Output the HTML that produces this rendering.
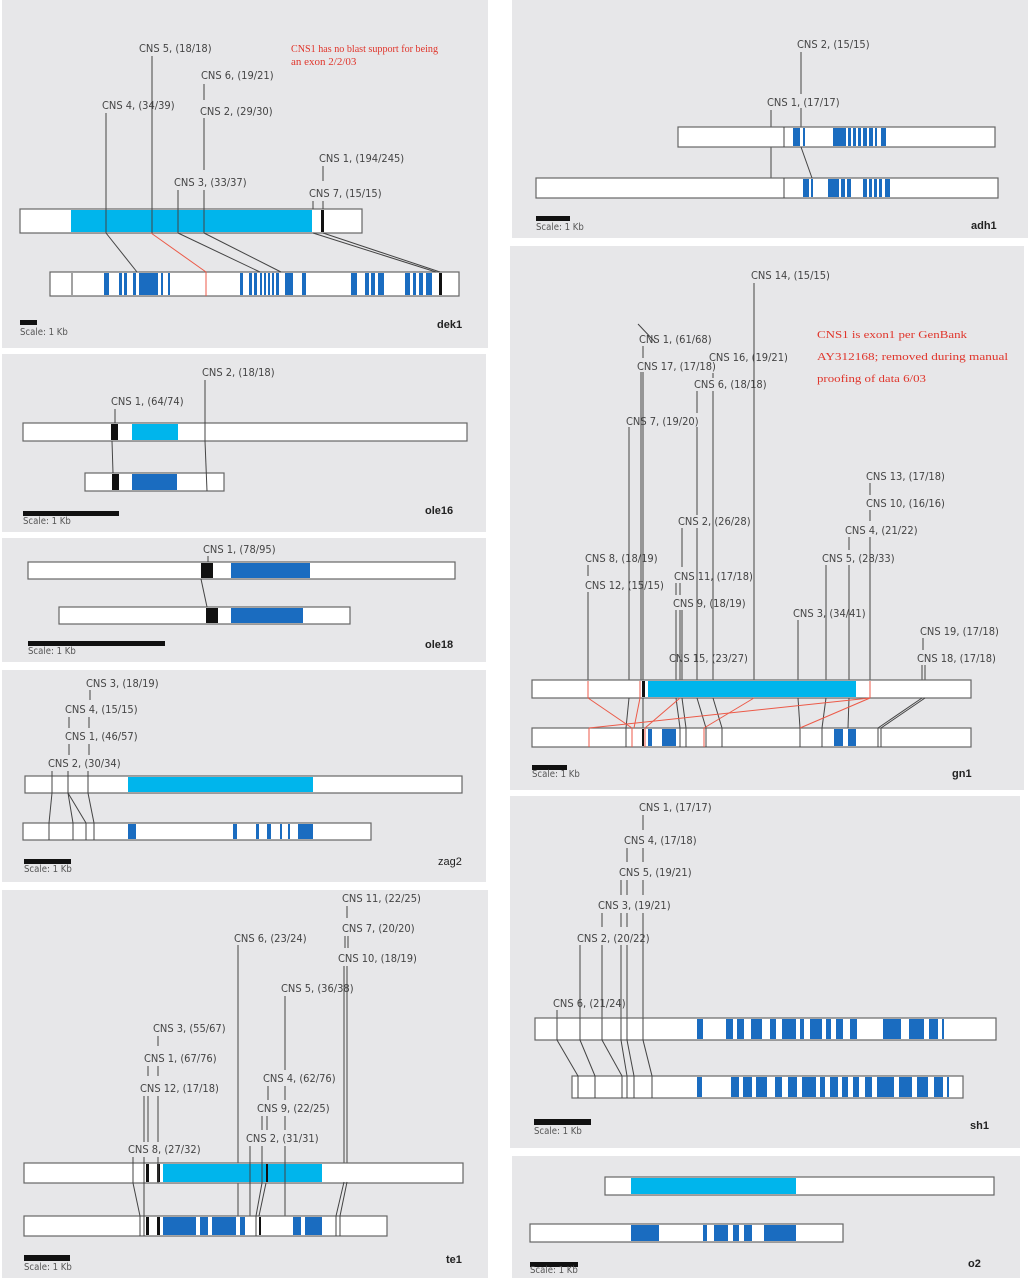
<!DOCTYPE html>
<html><head><meta charset="utf-8"><style>
html,body{margin:0;padding:0;background:#fff;}
svg{display:block;}
text{font-family:"DejaVu Sans Condensed","Liberation Sans",sans-serif;font-size:11px;fill:#444;}
.b{font-family:"Liberation Sans",sans-serif;font-weight:bold;font-size:11px;fill:#222;}
.s{font-size:9.5px;fill:#555;}
.r{font-family:"Liberation Serif",serif;fill:#e0352b;}
.bar{fill:#fff;stroke:#666;stroke-width:1.2;}
.lb{fill:#00b5ec;}
.db{fill:#1a6cc0;}
.k{fill:#111;}
line{stroke:#444;stroke-width:1;}
.rl{stroke:#ec5a48;stroke-width:1;}
</style></head><body>
<svg width="1030" height="1280" xmlns="http://www.w3.org/2000/svg">
<rect width="1030" height="1280" fill="#fff"/>
<g fill="#e7e7e9">
<rect x="2" y="0" width="486" height="348"/>
<rect x="2" y="354" width="484" height="178"/>
<rect x="2" y="538" width="484" height="124"/>
<rect x="2" y="670" width="484" height="212"/>
<rect x="2" y="890" width="486" height="388"/>
<rect x="512" y="0" width="516" height="238"/>
<rect x="510" y="246" width="514" height="544"/>
<rect x="510" y="796" width="510" height="352"/>
<rect x="512" y="1156" width="508" height="122"/>
</g>

<!-- dek1 -->
<text x="139" y="52">CNS 5, (18/18)</text>
<text x="201" y="79">CNS 6, (19/21)</text>
<text x="102" y="109">CNS 4, (34/39)</text>
<text x="200" y="115">CNS 2, (29/30)</text>
<text x="174" y="186">CNS 3, (33/37)</text>
<text x="319" y="162">CNS 1, (194/245)</text>
<text x="309" y="197">CNS 7, (15/15)</text>
<text class="r" x="291" y="52" font-size="10.5" textLength="147" lengthAdjust="spacingAndGlyphs">CNS1 has no blast support for being</text>
<text class="r" x="291" y="65" font-size="10.5">an exon 2/2/03</text>
<rect class="bar" x="20" y="209" width="342" height="24"/>
<rect class="lb" x="71" y="210" width="241" height="22"/>
<rect class="k" x="321" y="210" width="3" height="22"/>
<rect class="bar" x="50" y="272" width="409" height="24"/>
<g class="db">
<rect x="104" y="273" width="5" height="22"/><rect x="119" y="273" width="3" height="22"/><rect x="124" y="273" width="3" height="22"/><rect x="133" y="273" width="3" height="22"/><rect x="139" y="273" width="19" height="22"/><rect x="161" y="273" width="2" height="22"/><rect x="168" y="273" width="2" height="22"/>
<rect x="240" y="273" width="3" height="22"/><rect x="249" y="273" width="3" height="22"/><rect x="254" y="273" width="3" height="22"/><rect x="260" y="273" width="2" height="22"/><rect x="264" y="273" width="2" height="22"/><rect x="268" y="273" width="2" height="22"/><rect x="272" y="273" width="2" height="22"/><rect x="276" y="273" width="3" height="22"/><rect x="285" y="273" width="8" height="22"/><rect x="302" y="273" width="4" height="22"/>
<rect x="351" y="273" width="6" height="22"/><rect x="365" y="273" width="4" height="22"/><rect x="371" y="273" width="4" height="22"/><rect x="378" y="273" width="6" height="22"/><rect x="405" y="273" width="5" height="22"/><rect x="413" y="273" width="3" height="22"/><rect x="419" y="273" width="4" height="22"/><rect x="426" y="273" width="6" height="22"/>
</g>
<rect class="k" x="439" y="273" width="3" height="22"/>
<line x1="72" y1="273" x2="72" y2="295"/>
<line x1="106" y1="113" x2="106" y2="233"/><line x1="106" y1="233" x2="137" y2="272"/>
<line x1="152" y1="56" x2="152" y2="233"/><line class="rl" x1="151" y1="233" x2="206" y2="272"/><line class="rl" x1="206" y1="272" x2="206" y2="296"/>
<line x1="204" y1="84" x2="204" y2="100"/><line x1="204" y1="118" x2="204" y2="170" stroke-width="2"/><line x1="204" y1="190" x2="204" y2="233" stroke-width="2"/>
<line x1="178" y1="190" x2="178" y2="233"/><line x1="178" y1="233" x2="260" y2="272"/><line x1="204" y1="233" x2="281" y2="272" stroke-width="2"/>
<line x1="323" y1="166" x2="323" y2="181"/><line x1="313" y1="201" x2="313" y2="209"/><line x1="323" y1="201" x2="323" y2="209"/>
<line x1="313" y1="233" x2="436" y2="272" stroke="#888" stroke-width="2"/><line x1="323" y1="233" x2="440" y2="272" stroke="#888" stroke-width="2"/>
<rect class="k" x="20" y="320" width="17" height="5"/><text class="s" x="20" y="335">Scale:  1 Kb</text><text class="b" x="437" y="328">dek1</text>

<!-- ole16 -->
<text x="202" y="376">CNS 2, (18/18)</text>
<text x="111" y="405">CNS 1, (64/74)</text>
<rect class="bar" x="23" y="423" width="444" height="18"/>
<rect class="k" x="111" y="424" width="7" height="16"/><rect class="lb" x="132" y="424" width="46" height="16"/>
<rect class="bar" x="85" y="473" width="139" height="18"/>
<rect class="k" x="112" y="474" width="7" height="16"/><rect class="db" x="132" y="474" width="45" height="16"/>
<line x1="115" y1="409" x2="115" y2="423"/><line x1="112" y1="441" x2="113" y2="473"/>
<line x1="205" y1="380" x2="205" y2="441"/><line x1="205" y1="441" x2="207" y2="491"/>
<rect class="k" x="23" y="511" width="96" height="5"/><text class="s" x="23" y="524">Scale:  1 Kb</text><text class="b" x="425" y="514">ole16</text>

<!-- ole18 -->
<text x="203" y="553">CNS 1, (78/95)</text>
<rect class="bar" x="28" y="562" width="427" height="17"/>
<rect class="k" x="201" y="563" width="12" height="15"/><rect class="db" x="231" y="563" width="79" height="15"/>
<rect class="bar" x="59" y="607" width="291" height="17"/>
<rect class="k" x="206" y="608" width="12" height="15"/><rect class="db" x="231" y="608" width="72" height="15"/>
<line x1="208" y1="556" x2="208" y2="562"/><line x1="201" y1="579" x2="207" y2="607"/>
<rect class="k" x="28" y="641" width="137" height="5"/><text class="s" x="28" y="654">Scale:   1 Kb</text><text class="b" x="425" y="648">ole18</text>

<!-- zag2 -->
<text x="86" y="687">CNS 3, (18/19)</text>
<text x="65" y="713">CNS 4, (15/15)</text>
<text x="65" y="740">CNS 1, (46/57)</text>
<text x="48" y="767">CNS 2, (30/34)</text>
<rect class="bar" x="25" y="776" width="437" height="17"/>
<rect class="lb" x="128" y="777" width="185" height="15"/>
<line x1="90" y1="690" x2="90" y2="700"/><line x1="69" y1="717" x2="69" y2="728"/><line x1="89" y1="717" x2="89" y2="728"/>
<line x1="69" y1="744" x2="69" y2="755"/><line x1="89" y1="744" x2="89" y2="755"/>
<line x1="52" y1="771" x2="52" y2="793"/><line x1="68" y1="771" x2="68" y2="793" stroke-width="1.5"/><line x1="88" y1="771" x2="88" y2="793"/>
<rect class="bar" x="23" y="823" width="348" height="17"/>
<g class="db"><rect x="128" y="824" width="8" height="15"/><rect x="233" y="824" width="4" height="15"/><rect x="256" y="824" width="3" height="15"/><rect x="267" y="824" width="4" height="15"/><rect x="280" y="824" width="2" height="15"/><rect x="288" y="824" width="2" height="15"/><rect x="298" y="824" width="15" height="15"/></g>
<line x1="52" y1="793" x2="49" y2="823"/><line x1="49" y1="823" x2="49" y2="840"/>
<line x1="68" y1="793" x2="73" y2="823"/><line x1="73" y1="823" x2="73" y2="840" stroke-width="1.5"/>
<line x1="68" y1="793" x2="86" y2="823"/><line x1="86" y1="823" x2="86" y2="840"/>
<line x1="88" y1="793" x2="94" y2="823"/><line x1="94" y1="823" x2="94" y2="840"/>
<rect class="k" x="24" y="859" width="47" height="5"/><text class="s" x="24" y="872">Scale:  1 Kb</text><text class="b" x="438" y="865" style="font-weight:normal">zag2</text>

<!-- te1 -->
<text x="342" y="902">CNS 11, (22/25)</text>
<text x="342" y="932">CNS 7, (20/20)</text>
<text x="234" y="942">CNS 6, (23/24)</text>
<text x="338" y="962">CNS 10, (18/19)</text>
<text x="281" y="992">CNS 5, (36/38)</text>
<text x="153" y="1032">CNS 3, (55/67)</text>
<text x="144" y="1062">CNS 1, (67/76)</text>
<text x="263" y="1082">CNS 4, (62/76)</text>
<text x="140" y="1092">CNS 12, (17/18)</text>
<text x="257" y="1112">CNS 9, (22/25)</text>
<text x="246" y="1142">CNS 2, (31/31)</text>
<text x="128" y="1153">CNS 8, (27/32)</text>
<line x1="347" y1="906" x2="347" y2="918"/>
<line x1="345" y1="936" x2="345" y2="948"/><line x1="348" y1="936" x2="348" y2="948"/>
<line x1="344" y1="966" x2="344" y2="1182" stroke-width="1.3"/><line x1="347" y1="966" x2="347" y2="1182" stroke-width="1.3"/>
<line x1="238" y1="945" x2="238" y2="1236"/>
<line x1="285" y1="996" x2="285" y2="1070"/>
<line x1="158" y1="1036" x2="158" y2="1046"/>
<line x1="148" y1="1066" x2="148" y2="1076"/><line x1="158" y1="1066" x2="158" y2="1076"/>
<line x1="268" y1="1086" x2="268" y2="1100"/><line x1="285" y1="1086" x2="285" y2="1100"/>
<line x1="144" y1="1096" x2="144" y2="1142"/><line x1="148" y1="1096" x2="148" y2="1142"/><line x1="158" y1="1096" x2="158" y2="1142"/>
<line x1="262" y1="1116" x2="262" y2="1130"/><line x1="267" y1="1116" x2="267" y2="1130"/><line x1="285" y1="1116" x2="285" y2="1130"/>
<rect class="bar" x="24" y="1163" width="439" height="20"/>
<rect class="lb" x="163" y="1164" width="159" height="18"/>
<rect class="k" x="146" y="1164" width="3" height="18"/><rect class="k" x="157" y="1164" width="3" height="18"/><rect class="k" x="266" y="1164" width="2" height="18"/>
<line x1="133" y1="1157" x2="133" y2="1183"/><line x1="144" y1="1157" x2="144" y2="1183"/><line x1="158" y1="1157" x2="158" y2="1183"/>
<line x1="250" y1="1146" x2="250" y2="1216"/><line x1="262" y1="1146" x2="262" y2="1183"/><line x1="285" y1="1146" x2="285" y2="1236"/>
<rect class="bar" x="24" y="1216" width="363" height="20"/>
<g class="db"><rect x="163" y="1217" width="33" height="18"/><rect x="200" y="1217" width="8" height="18"/><rect x="212" y="1217" width="24" height="18"/><rect x="240" y="1217" width="5" height="18"/><rect x="293" y="1217" width="8" height="18"/><rect x="305" y="1217" width="17" height="18"/></g>
<rect class="k" x="146" y="1217" width="3" height="18"/><rect class="k" x="157" y="1217" width="3" height="18"/><rect class="k" x="259" y="1217" width="2" height="18"/>
<line x1="133" y1="1183" x2="140" y2="1216"/><line x1="140" y1="1216" x2="140" y2="1236"/>
<line x1="144" y1="1183" x2="144" y2="1236"/>
<line x1="262" y1="1183" x2="256" y2="1216"/><line x1="256" y1="1216" x2="256" y2="1236"/>
<line x1="266" y1="1183" x2="259" y2="1216"/>
<line x1="344" y1="1182" x2="336" y2="1216"/><line x1="347" y1="1182" x2="340" y2="1216"/>
<line x1="336" y1="1216" x2="336" y2="1236"/><line x1="340" y1="1216" x2="340" y2="1236"/>
<rect class="k" x="24" y="1255" width="46" height="6"/><text class="s" x="24" y="1270">Scale:  1 Kb</text><text class="b" x="446" y="1263">te1</text>

<!-- adh1 -->
<text x="797" y="48">CNS 2, (15/15)</text>
<text x="767" y="106">CNS 1, (17/17)</text>
<line x1="801" y1="52" x2="801" y2="94"/><line x1="801" y1="108" x2="801" y2="147"/>
<line x1="771" y1="110" x2="771" y2="197"/>
<rect class="bar" x="678" y="127" width="317" height="20"/>
<g class="db"><rect x="793" y="128" width="7" height="18"/><rect x="803" y="128" width="2" height="18"/><rect x="833" y="128" width="13" height="18"/><rect x="848" y="128" width="3" height="18"/><rect x="853" y="128" width="3" height="18"/><rect x="858" y="128" width="3" height="18"/><rect x="863" y="128" width="4" height="18"/><rect x="869" y="128" width="4" height="18"/><rect x="875" y="128" width="2" height="18"/><rect x="881" y="128" width="5" height="18"/></g>
<line x1="784" y1="127" x2="784" y2="147"/>
<rect class="bar" x="536" y="178" width="462" height="20"/>
<g class="db"><rect x="803" y="179" width="6" height="18"/><rect x="811" y="179" width="2" height="18"/><rect x="828" y="179" width="11" height="18"/><rect x="841" y="179" width="4" height="18"/><rect x="847" y="179" width="4" height="18"/><rect x="863" y="179" width="4" height="18"/><rect x="869" y="179" width="3" height="18"/><rect x="874" y="179" width="3" height="18"/><rect x="879" y="179" width="3" height="18"/><rect x="885" y="179" width="5" height="18"/></g>
<line x1="784" y1="178" x2="784" y2="198"/>
<line x1="801" y1="147" x2="812" y2="178"/>
<rect class="k" x="536" y="216" width="34" height="5"/><text class="s" x="536" y="230">Scale:  1 Kb</text><text class="b" x="971" y="229">adh1</text>

<!-- gn1 -->
<text x="751" y="279">CNS 14, (15/15)</text>
<text x="639" y="343">CNS 1, (61/68)</text>
<line x1="638" y1="324" x2="655" y2="342" stroke="#1e9fd8" stroke-width="4"/>
<text x="709" y="361">CNS 16, (19/21)</text>
<text x="637" y="370">CNS 17, (17/18)</text>
<text x="694" y="388">CNS 6, (18/18)</text>
<text x="626" y="425">CNS 7, (19/20)</text>
<text x="866" y="480">CNS 13, (17/18)</text>
<text x="866" y="507">CNS 10, (16/16)</text>
<text x="678" y="525">CNS 2, (26/28)</text>
<text x="845" y="534">CNS 4, (21/22)</text>
<text x="585" y="562">CNS 8, (18/19)</text>
<text x="822" y="562">CNS 5, (28/33)</text>
<text x="674" y="580">CNS 11, (17/18)</text>
<text x="585" y="589">CNS 12, (15/15)</text>
<text x="673" y="607">CNS 9, (18/19)</text>
<text x="793" y="617">CNS 3, (34/41)</text>
<text x="920" y="635">CNS 19, (17/18)</text>
<text x="669" y="662">CNS 15, (23/27)</text>
<text x="917" y="662">CNS 18, (17/18)</text>
<text class="r" x="817" y="338" font-size="17" textLength="150" lengthAdjust="spacingAndGlyphs">CNS1 is exon1 per GenBank</text>
<text class="r" x="817" y="360" font-size="17" textLength="191" lengthAdjust="spacingAndGlyphs">AY312168;  removed during manual</text>
<text class="r" x="817" y="382" font-size="17" textLength="109" lengthAdjust="spacingAndGlyphs">proofing of data 6/03</text>
<line x1="754" y1="283" x2="754" y2="680"/>
<line x1="643" y1="346" x2="643" y2="358"/>
<line x1="713" y1="373" x2="713" y2="378"/>
<line x1="641" y1="372" x2="641" y2="680"/><line x1="643" y1="372" x2="643" y2="680"/>
<line x1="697" y1="391" x2="697" y2="413"/><line x1="713" y1="391" x2="713" y2="680"/>
<line x1="629" y1="427" x2="629" y2="680"/><line x1="697" y1="427" x2="697" y2="515"/>
<line x1="870" y1="483" x2="870" y2="495"/><line x1="870" y1="510" x2="870" y2="521"/>
<line x1="682" y1="528" x2="682" y2="567"/><line x1="697" y1="528" x2="697" y2="680"/>
<line x1="849" y1="537" x2="849" y2="550"/><line x1="870" y1="537" x2="870" y2="680"/>
<line x1="588" y1="565" x2="588" y2="576"/>
<line x1="826" y1="565" x2="826" y2="680"/><line x1="849" y1="565" x2="849" y2="680"/>
<line x1="676" y1="583" x2="676" y2="595"/><line x1="680" y1="583" x2="680" y2="595"/>
<line x1="588" y1="592" x2="588" y2="680"/>
<line x1="676" y1="610" x2="676" y2="680"/><line x1="680" y1="610" x2="680" y2="680"/><line x1="682" y1="610" x2="682" y2="680"/>
<line x1="798" y1="620" x2="798" y2="680"/>
<line x1="923" y1="638" x2="923" y2="650"/>
<line x1="922" y1="665" x2="922" y2="680"/><line x1="925" y1="665" x2="925" y2="680"/>
<rect class="bar" x="532" y="680" width="439" height="18"/>
<rect class="lb" x="648" y="681" width="208" height="16"/>
<rect class="k" x="642" y="681" width="3" height="16"/>
<line class="rl" x1="588" y1="681" x2="588" y2="698"/><line class="rl" x1="640" y1="681" x2="640" y2="698"/><line class="rl" x1="870" y1="681" x2="870" y2="698"/>
<rect class="bar" x="532" y="728" width="439" height="19"/>
<g class="db"><rect x="648" y="729" width="4" height="17"/><rect x="662" y="729" width="14" height="17"/><rect x="834" y="729" width="9" height="17"/><rect x="848" y="729" width="8" height="17"/></g>
<rect class="k" x="642" y="729" width="2" height="17"/>
<g>
<line x1="629" y1="698" x2="626" y2="728"/><line x1="626" y1="728" x2="626" y2="747"/>
<line x1="643" y1="698" x2="643" y2="728"/>
<line x1="676" y1="698" x2="680" y2="728"/><line x1="680" y1="728" x2="680" y2="747"/>
<line x1="682" y1="698" x2="686" y2="728"/><line x1="686" y1="728" x2="686" y2="747"/>
<line x1="697" y1="698" x2="706" y2="728"/><line x1="706" y1="728" x2="706" y2="747"/>
<line x1="713" y1="698" x2="722" y2="728"/><line x1="722" y1="728" x2="722" y2="747"/>
<line x1="798" y1="698" x2="800" y2="728"/><line x1="800" y1="728" x2="800" y2="747"/>
<line x1="826" y1="698" x2="822" y2="728"/><line x1="822" y1="728" x2="822" y2="747"/>
<line x1="849" y1="698" x2="848" y2="728"/>
<line x1="922" y1="698" x2="878" y2="728" stroke="#888" stroke-width="1.5"/><line x1="925" y1="698" x2="881" y2="728" stroke="#888" stroke-width="1.5"/>
<line x1="878" y1="728" x2="878" y2="747"/><line x1="881" y1="728" x2="881" y2="747"/>
</g>
<g>
<line class="rl" x1="588" y1="698" x2="632" y2="728"/><line class="rl" x1="632" y1="728" x2="632" y2="747"/>
<line class="rl" x1="640" y1="698" x2="634" y2="728"/>
<line class="rl" x1="680" y1="698" x2="645" y2="728"/><line class="rl" x1="645" y1="728" x2="645" y2="747"/>
<line class="rl" x1="754" y1="698" x2="704" y2="728"/><line class="rl" x1="704" y1="728" x2="704" y2="747"/>
<line class="rl" x1="870" y1="698" x2="589" y2="728"/><line class="rl" x1="589" y1="728" x2="589" y2="747"/>
<line class="rl" x1="870" y1="698" x2="800" y2="728"/>
</g>
<rect class="k" x="532" y="765" width="35" height="5"/><text class="s" x="532" y="777">Scale:  1 Kb</text><text class="b" x="952" y="777">gn1</text>

<!-- sh1 -->
<text x="639" y="811">CNS 1, (17/17)</text>
<text x="624" y="844">CNS 4, (17/18)</text>
<text x="619" y="876">CNS 5, (19/21)</text>
<text x="598" y="909">CNS 3, (19/21)</text>
<text x="577" y="942">CNS 2, (20/22)</text>
<text x="553" y="1007">CNS 6, (21/24)</text>
<line x1="643" y1="815" x2="643" y2="830"/>
<line x1="627" y1="848" x2="627" y2="862"/><line x1="643" y1="848" x2="643" y2="862"/>
<line x1="621" y1="880" x2="621" y2="895"/><line x1="627" y1="880" x2="627" y2="895"/><line x1="643" y1="880" x2="643" y2="895"/>
<line x1="602" y1="913" x2="602" y2="927"/><line x1="621" y1="913" x2="621" y2="927"/><line x1="627" y1="913" x2="627" y2="927"/><line x1="643" y1="913" x2="643" y2="1018"/>
<line x1="580" y1="945" x2="580" y2="1018"/><line x1="602" y1="945" x2="602" y2="1018"/><line x1="621" y1="945" x2="621" y2="1018"/><line x1="627" y1="945" x2="627" y2="1018"/>
<line x1="557" y1="1010" x2="557" y2="1018"/>
<rect class="bar" x="535" y="1018" width="461" height="22"/>
<g class="db"><rect x="697" y="1019" width="6" height="20"/><rect x="726" y="1019" width="7" height="20"/><rect x="737" y="1019" width="7" height="20"/><rect x="751" y="1019" width="11" height="20"/><rect x="770" y="1019" width="6" height="20"/><rect x="782" y="1019" width="14" height="20"/><rect x="800" y="1019" width="4" height="20"/><rect x="810" y="1019" width="12" height="20"/><rect x="826" y="1019" width="5" height="20"/><rect x="836" y="1019" width="7" height="20"/><rect x="850" y="1019" width="7" height="20"/><rect x="883" y="1019" width="18" height="20"/><rect x="909" y="1019" width="15" height="20"/><rect x="929" y="1019" width="9" height="20"/><rect x="942" y="1019" width="2" height="20"/></g>
<line x1="557" y1="1018" x2="557" y2="1040"/><line x1="580" y1="1018" x2="580" y2="1040"/><line x1="602" y1="1018" x2="602" y2="1040"/><line x1="621" y1="1018" x2="621" y2="1040"/><line x1="627" y1="1018" x2="627" y2="1040"/><line x1="643" y1="1018" x2="643" y2="1040"/>
<rect class="bar" x="572" y="1076" width="391" height="22"/>
<g class="db"><rect x="697" y="1077" width="5" height="20"/><rect x="731" y="1077" width="8" height="20"/><rect x="743" y="1077" width="9" height="20"/><rect x="756" y="1077" width="11" height="20"/><rect x="775" y="1077" width="7" height="20"/><rect x="788" y="1077" width="9" height="20"/><rect x="802" y="1077" width="14" height="20"/><rect x="820" y="1077" width="5" height="20"/><rect x="830" y="1077" width="8" height="20"/><rect x="842" y="1077" width="6" height="20"/><rect x="853" y="1077" width="6" height="20"/><rect x="865" y="1077" width="7" height="20"/><rect x="877" y="1077" width="17" height="20"/><rect x="899" y="1077" width="13" height="20"/><rect x="917" y="1077" width="11" height="20"/><rect x="934" y="1077" width="9" height="20"/><rect x="947" y="1077" width="2" height="20"/></g>
<line x1="557" y1="1040" x2="578" y2="1076"/><line x1="580" y1="1040" x2="595" y2="1076"/><line x1="602" y1="1040" x2="622" y2="1076"/><line x1="621" y1="1040" x2="627" y2="1076"/><line x1="627" y1="1040" x2="634" y2="1076"/><line x1="643" y1="1040" x2="652" y2="1076"/>
<line x1="578" y1="1076" x2="578" y2="1098"/><line x1="595" y1="1076" x2="595" y2="1098"/><line x1="622" y1="1076" x2="622" y2="1098"/><line x1="627" y1="1076" x2="627" y2="1098"/><line x1="634" y1="1076" x2="634" y2="1098"/><line x1="652" y1="1076" x2="652" y2="1098"/>
<rect class="k" x="534" y="1119" width="57" height="6"/><text class="s" x="534" y="1134">Scale:  1 Kb</text><text class="b" x="970" y="1129">sh1</text>

<!-- o2 -->
<rect class="bar" x="605" y="1177" width="389" height="18"/>
<rect class="lb" x="631" y="1178" width="165" height="16"/>
<rect class="bar" x="530" y="1224" width="313" height="18"/>
<g class="db"><rect x="631" y="1225" width="28" height="16"/><rect x="703" y="1225" width="4" height="16"/><rect x="714" y="1225" width="14" height="16"/><rect x="733" y="1225" width="6" height="16"/><rect x="744" y="1225" width="8" height="16"/><rect x="764" y="1225" width="32" height="16"/></g>
<rect class="k" x="530" y="1262" width="48" height="5"/><text class="s" x="530" y="1273">Scale:  1 Kb</text><text class="b" x="968" y="1267">o2</text>
</svg>
</body></html>
